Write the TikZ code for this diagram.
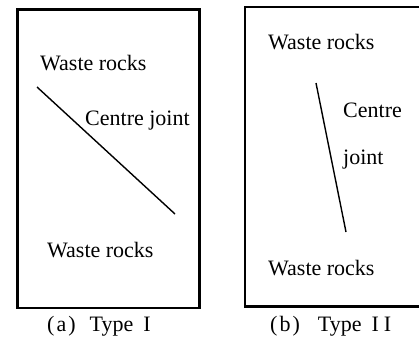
\documentclass[tikz,border=0pt]{standalone}
\usepackage{fontspec}
\setmainfont{Liberation Serif}
\begin{document}
\begin{tikzpicture}[x=1pt,y=-1pt,
  frame/.style={draw=black,line width=2.6pt},
  joint/.style={draw=black,line width=1.4pt},
  lbl/.style={anchor=base west,inner sep=0pt,font=\fontsize{22}{26}\selectfont},
  captext/.style={anchor=base west,inner sep=0pt,font=\fontsize{22}{26}\selectfont}]
\useasboundingbox (0,0) rectangle (419,337);
% Type I
\draw[frame] (17.5,9.5) rectangle (199.5,308);
\node[lbl] (a1) at (40,70) {Waste rocks};
\node[lbl] (a2) at (85,125) {Centre joint};
\node[lbl] (a3) at (47,257) {Waste rocks};
\coordinate (ja) at (37,87);
\coordinate (jb) at (175,214);
\draw[joint] (ja) -- (jb);
\node[captext] (ca) at (47,331) {(\hspace{2pt}a\hspace{2pt})\hspace{14pt}Type\hspace{10pt}I};
% Type II
\draw[frame] (245,7) rectangle (430,306.5);
\node[lbl] (b1) at (268,49) {Waste rocks};
\node[lbl] (b2) at (343,117) {Centre};
\node[lbl] (b3) at (343,164) {joint};
\node[lbl] (b4) at (268,275) {Waste rocks};
\coordinate (jc) at (316,83);
\coordinate (jd) at (346,232);
\draw[joint] (jc) -- (jd);
\node[captext] (cb) at (270,331) {(\hspace{2pt}b\hspace{2pt})\hspace{18pt}Type\hspace{10pt}I\hspace{5pt}I};
\end{tikzpicture}
\end{document}
